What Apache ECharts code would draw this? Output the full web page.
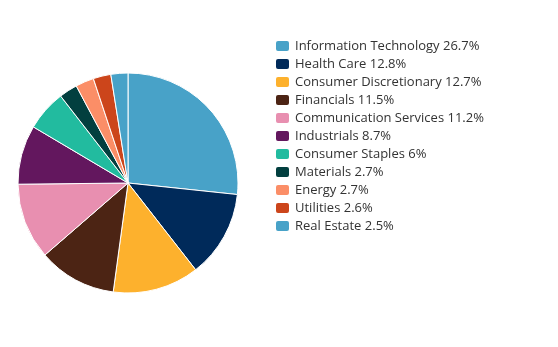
<!DOCTYPE html>
<html>
<head>
<meta charset="utf-8">
<script src="https://cdn.jsdelivr.net/npm/echarts@6/dist/echarts.min.js"></script>
<style>
html,body{margin:0;padding:0;background:#fff;}
#chart{width:558px;height:347px;}
</style>
</head>
<body>
<div id="chart"></div>
<script>
// Sector weights (%)
const sectors = [
  'Information Technology', 'Health Care', 'Consumer Discretionary', 'Financials',
  'Communication Services', 'Industrials', 'Consumer Staples', 'Materials',
  'Energy', 'Utilities', 'Real Estate'
];
const weights = [26.7, 12.8, 12.7, 11.5, 11.2, 8.7, 6, 2.7, 2.7, 2.6, 2.5];
const sectorColors = [
  '#48a2c8', '#002a5a', '#fdb12d', '#4c2414', '#e88fb0', '#63175e',
  '#22bb9f', '#023f3f', '#fb8e67', '#cc451b', '#48a2c8'
];

const data = sectors.map((name, i) => ({ name, value: weights[i] }));
const weightByName = {};
sectors.forEach((n, i) => { weightByName[n] = weights[i]; });

const chart = echarts.init(document.getElementById('chart'));
chart.setOption({
  animation: false,
  color: sectorColors,
  legend: {
    orient: 'vertical',
    left: 269,
    top: 34,
    itemWidth: 15,
    itemHeight: 12,
    itemGap: 4,
    icon: 'roundRect',
    textStyle: { fontFamily: 'Open Sans', fontSize: 13, color: '#333' },
    formatter: name => name + ' ' + weightByName[name] + '%'
  },
  series: [{
    type: 'pie',
    center: [128, 183],
    radius: 110,
    startAngle: 90,
    clockwise: true,
    label: { show: false },
    labelLine: { show: false },
    itemStyle: { borderColor: '#fff', borderWidth: 1 },
    emphasis: { disabled: true },
    data
  }]
});
</script>
</body>
</html>
